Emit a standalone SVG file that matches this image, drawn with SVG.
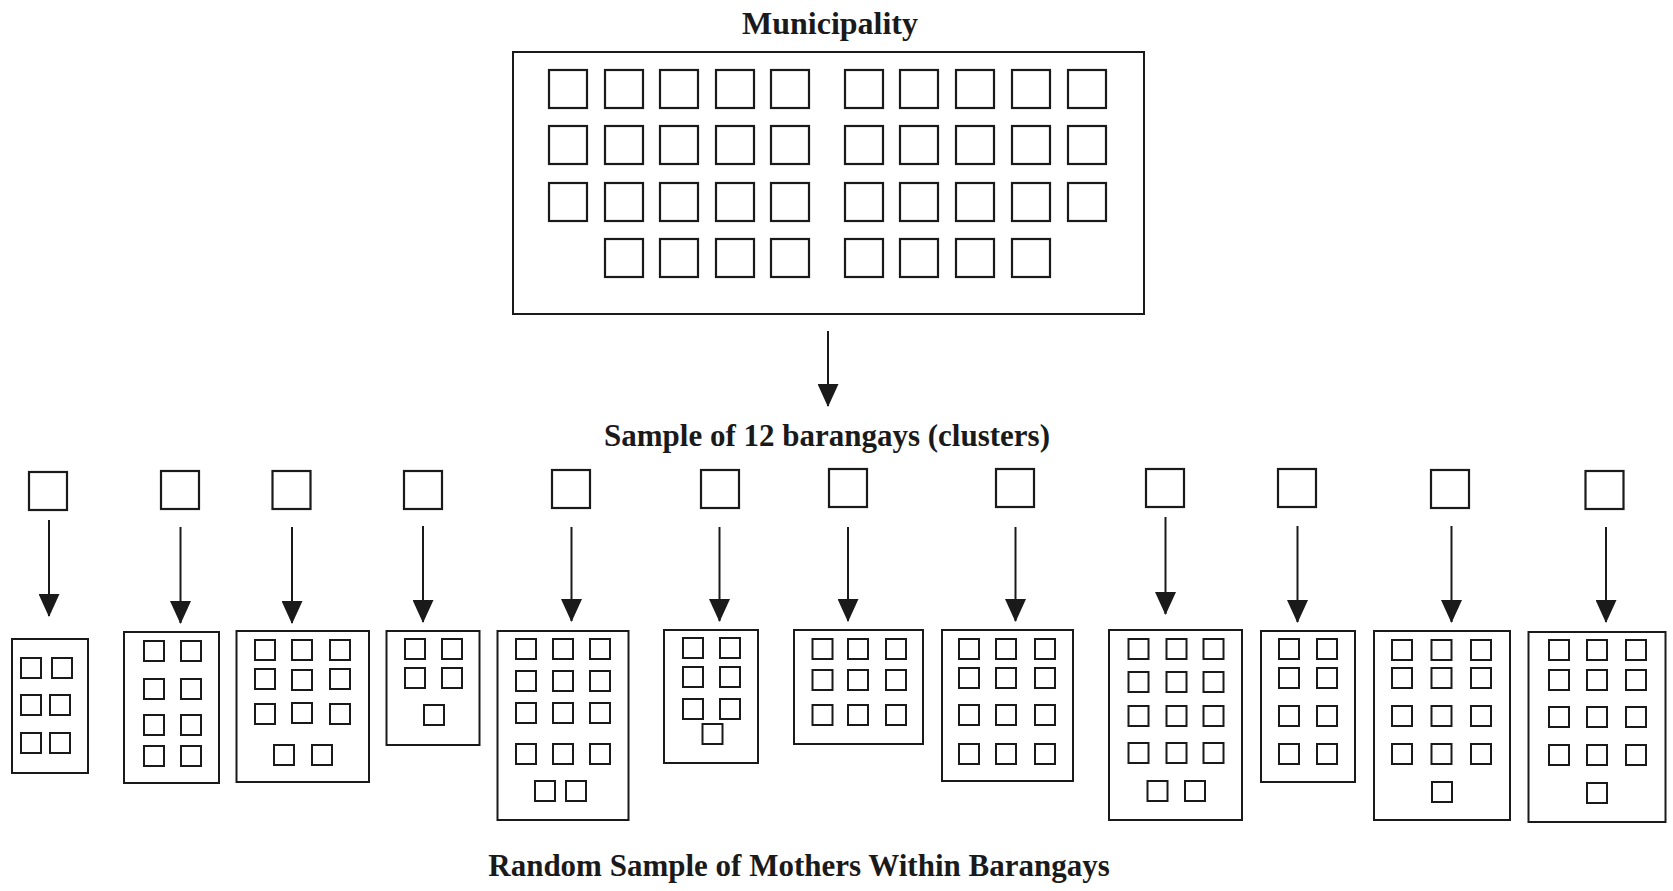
<svg xmlns="http://www.w3.org/2000/svg" width="1673" height="891" viewBox="0 0 1673 891">
<defs>
<style>
.t{font-family:"Liberation Serif","Times New Roman",serif;font-weight:bold;fill:#1a1a1a;text-anchor:middle}
.box{fill:none;stroke:#1a1a1a;stroke-width:2}
.sq{fill:none;stroke:#1a1a1a;stroke-width:2.2}
.s{fill:none;stroke:#1a1a1a;stroke-width:2}
.c{fill:none;stroke:#1a1a1a;stroke-width:2}
</style>
<marker id="ah" markerUnits="userSpaceOnUse" markerWidth="23" markerHeight="21" viewBox="0 0 23 21" refX="22" refY="10.5" orient="auto">
<path d="M0,0 L23,10.5 L0,21 Z" fill="#1a1a1a"/>
</marker>
<rect id="m" width="38" height="38" class="sq"/>
<rect id="b" width="38" height="38" class="sq"/>
<rect id="i" width="20" height="20" class="s"/>
</defs>
<rect width="1673" height="891" fill="#fff"/>

<g id="title"><text class="t" x="830" y="34" font-size="32">Municipality</text></g>

<g id="municipality">
<rect class="box" x="513" y="52" width="631" height="262"/>
<g id="m-row1">
<use href="#m" x="549" y="70"/><use href="#m" x="605" y="70"/><use href="#m" x="660" y="70"/><use href="#m" x="716" y="70"/><use href="#m" x="771" y="70"/>
<use href="#m" x="845" y="70"/><use href="#m" x="900" y="70"/><use href="#m" x="956" y="70"/><use href="#m" x="1012" y="70"/><use href="#m" x="1068" y="70"/>
</g>
<g id="m-row2">
<use href="#m" x="549" y="126"/><use href="#m" x="605" y="126"/><use href="#m" x="660" y="126"/><use href="#m" x="716" y="126"/><use href="#m" x="771" y="126"/>
<use href="#m" x="845" y="126"/><use href="#m" x="900" y="126"/><use href="#m" x="956" y="126"/><use href="#m" x="1012" y="126"/><use href="#m" x="1068" y="126"/>
</g>
<g id="m-row3">
<use href="#m" x="549" y="183"/><use href="#m" x="605" y="183"/><use href="#m" x="660" y="183"/><use href="#m" x="716" y="183"/><use href="#m" x="771" y="183"/>
<use href="#m" x="845" y="183"/><use href="#m" x="900" y="183"/><use href="#m" x="956" y="183"/><use href="#m" x="1012" y="183"/><use href="#m" x="1068" y="183"/>
</g>
<g id="m-row4">
<use href="#m" x="605" y="239"/><use href="#m" x="660" y="239"/><use href="#m" x="716" y="239"/><use href="#m" x="771" y="239"/>
<use href="#m" x="845" y="239"/><use href="#m" x="900" y="239"/><use href="#m" x="956" y="239"/><use href="#m" x="1012" y="239"/>
</g>
</g>

<g id="sample-label"><text class="t" x="827" y="446" font-size="31">Sample of 12 barangays (clusters)</text></g>

<g id="barangays">
<g id="brgy1"><use href="#b" x="29" y="472"/></g>
<g id="brgy2"><use href="#b" x="161" y="471"/></g>
<g id="brgy3"><use href="#b" x="272.5" y="471"/></g>
<g id="brgy4"><use href="#b" x="404" y="471"/></g>
<g id="brgy5"><use href="#b" x="552" y="470"/></g>
<g id="brgy6"><use href="#b" x="701" y="470"/></g>
<g id="brgy7"><use href="#b" x="829" y="469"/></g>
<g id="brgy8"><use href="#b" x="996" y="469"/></g>
<g id="brgy9"><use href="#b" x="1146" y="469"/></g>
<g id="brgy10"><use href="#b" x="1278" y="469"/></g>
<g id="brgy11"><use href="#b" x="1431" y="470"/></g>
<g id="brgy12"><use href="#b" x="1585.5" y="471"/></g>
</g>

<g id="clusters">
<g id="cluster1">
<rect class="box" x="12" y="639" width="76" height="134"/>
<use href="#i" x="21" y="658"/><use href="#i" x="52" y="658"/>
<use href="#i" x="21" y="695"/><use href="#i" x="50" y="695"/>
<use href="#i" x="21" y="733"/><use href="#i" x="50" y="733"/>
</g>
<g id="cluster2">
<rect class="box" x="124" y="632" width="95" height="151"/>
<use href="#i" x="144" y="641"/><use href="#i" x="181" y="641"/>
<use href="#i" x="144" y="679"/><use href="#i" x="181" y="679"/>
<use href="#i" x="144" y="715"/><use href="#i" x="181" y="715"/>
<use href="#i" x="144" y="746"/><use href="#i" x="181" y="746"/>
</g>
<g id="cluster3">
<rect class="box" x="236.5" y="631" width="132.5" height="151"/>
<use href="#i" x="255" y="640"/><use href="#i" x="292" y="640"/><use href="#i" x="330" y="640"/>
<use href="#i" x="255" y="669"/><use href="#i" x="292" y="670"/><use href="#i" x="330" y="669"/>
<use href="#i" x="255" y="704"/><use href="#i" x="292" y="703"/><use href="#i" x="330" y="704"/>
<use href="#i" x="274" y="745"/><use href="#i" x="312" y="745"/>
</g>
<g id="cluster4">
<rect class="box" x="386.5" y="631" width="93" height="114"/>
<use href="#i" x="405" y="639"/><use href="#i" x="442" y="639"/>
<use href="#i" x="405" y="668"/><use href="#i" x="442" y="668"/>
<use href="#i" x="424" y="705"/>
</g>
<g id="cluster5">
<rect class="box" x="497.5" y="631" width="131" height="189"/>
<use href="#i" x="516" y="639"/><use href="#i" x="553" y="639"/><use href="#i" x="590" y="639"/>
<use href="#i" x="516" y="671"/><use href="#i" x="553" y="671"/><use href="#i" x="590" y="671"/>
<use href="#i" x="516" y="703"/><use href="#i" x="553" y="703"/><use href="#i" x="590" y="703"/>
<use href="#i" x="516" y="744"/><use href="#i" x="553" y="744"/><use href="#i" x="590" y="744"/>
<use href="#i" x="535" y="781"/><use href="#i" x="566" y="781"/>
</g>
<g id="cluster6">
<rect class="box" x="664" y="630" width="94" height="133"/>
<use href="#i" x="683" y="638"/><use href="#i" x="720" y="638"/>
<use href="#i" x="683" y="667"/><use href="#i" x="720" y="667"/>
<use href="#i" x="683" y="699"/><use href="#i" x="720" y="699"/>
<use href="#i" x="702.5" y="724"/>
</g>
<g id="cluster7">
<rect class="box" x="794" y="630" width="129" height="114"/>
<use href="#i" x="812.5" y="639"/><use href="#i" x="848" y="639"/><use href="#i" x="886" y="639"/>
<use href="#i" x="812.5" y="670"/><use href="#i" x="848" y="670"/><use href="#i" x="886" y="670"/>
<use href="#i" x="812.5" y="705"/><use href="#i" x="848" y="705"/><use href="#i" x="886" y="705"/>
</g>
<g id="cluster8">
<rect class="box" x="942" y="630" width="131" height="151"/>
<use href="#i" x="959" y="639"/><use href="#i" x="996" y="639"/><use href="#i" x="1035" y="639"/>
<use href="#i" x="959" y="668"/><use href="#i" x="996" y="668"/><use href="#i" x="1035" y="668"/>
<use href="#i" x="959" y="705"/><use href="#i" x="996" y="705"/><use href="#i" x="1035" y="705"/>
<use href="#i" x="959" y="744"/><use href="#i" x="996" y="744"/><use href="#i" x="1035" y="744"/>
</g>
<g id="cluster9">
<rect class="box" x="1109" y="630" width="133" height="190"/>
<use href="#i" x="1128.5" y="639"/><use href="#i" x="1166.5" y="639"/><use href="#i" x="1203.5" y="639"/>
<use href="#i" x="1128.5" y="672"/><use href="#i" x="1166.5" y="672"/><use href="#i" x="1203.5" y="672"/>
<use href="#i" x="1128.5" y="706"/><use href="#i" x="1166.5" y="706"/><use href="#i" x="1203.5" y="706"/>
<use href="#i" x="1128.5" y="743"/><use href="#i" x="1166.5" y="743"/><use href="#i" x="1203.5" y="743"/>
<use href="#i" x="1147.5" y="781"/><use href="#i" x="1185" y="781"/>
</g>
<g id="cluster10">
<rect class="box" x="1261" y="631" width="94" height="151"/>
<use href="#i" x="1279" y="639"/><use href="#i" x="1317" y="639"/>
<use href="#i" x="1279" y="668"/><use href="#i" x="1317" y="668"/>
<use href="#i" x="1279" y="706"/><use href="#i" x="1317" y="706"/>
<use href="#i" x="1279" y="744"/><use href="#i" x="1317" y="744"/>
</g>
<g id="cluster11">
<rect class="box" x="1374" y="631" width="136" height="189"/>
<use href="#i" x="1392" y="640"/><use href="#i" x="1431.5" y="640"/><use href="#i" x="1471" y="640"/>
<use href="#i" x="1392" y="668"/><use href="#i" x="1431.5" y="668"/><use href="#i" x="1471" y="668"/>
<use href="#i" x="1392" y="706"/><use href="#i" x="1431.5" y="706"/><use href="#i" x="1471" y="706"/>
<use href="#i" x="1392" y="744"/><use href="#i" x="1431.5" y="744"/><use href="#i" x="1471" y="744"/>
<use href="#i" x="1432" y="782"/>
</g>
<g id="cluster12">
<rect class="box" x="1528.5" y="632" width="137" height="190"/>
<use href="#i" x="1549" y="640"/><use href="#i" x="1587" y="640"/><use href="#i" x="1626" y="640"/>
<use href="#i" x="1549" y="670"/><use href="#i" x="1587" y="670"/><use href="#i" x="1626" y="670"/>
<use href="#i" x="1549" y="707"/><use href="#i" x="1587" y="707"/><use href="#i" x="1626" y="707"/>
<use href="#i" x="1549" y="745"/><use href="#i" x="1587" y="745"/><use href="#i" x="1626" y="745"/>
<use href="#i" x="1587" y="783"/>
</g>
</g>

<g id="bottom-label"><text class="t" x="799" y="876" font-size="31">Random Sample of Mothers Within Barangays</text></g>

<g id="connectors">
<line class="c" x1="828" y1="331" x2="828" y2="406" marker-end="url(#ah)"/>
<line class="c" x1="49" y1="520" x2="49" y2="616" marker-end="url(#ah)"/>
<line class="c" x1="180.5" y1="527" x2="180.5" y2="623" marker-end="url(#ah)"/>
<line class="c" x1="292" y1="527" x2="292" y2="623" marker-end="url(#ah)"/>
<line class="c" x1="423" y1="526" x2="423" y2="622" marker-end="url(#ah)"/>
<line class="c" x1="571.5" y1="527" x2="571.5" y2="621" marker-end="url(#ah)"/>
<line class="c" x1="719.5" y1="527" x2="719.5" y2="621" marker-end="url(#ah)"/>
<line class="c" x1="848" y1="527" x2="848" y2="621" marker-end="url(#ah)"/>
<line class="c" x1="1015.5" y1="527" x2="1015.5" y2="621" marker-end="url(#ah)"/>
<line class="c" x1="1165.5" y1="517" x2="1165.5" y2="614" marker-end="url(#ah)"/>
<line class="c" x1="1297.5" y1="526" x2="1297.5" y2="622" marker-end="url(#ah)"/>
<line class="c" x1="1451.5" y1="526" x2="1451.5" y2="622" marker-end="url(#ah)"/>
<line class="c" x1="1606" y1="527" x2="1606" y2="622" marker-end="url(#ah)"/>
</g>
</svg>
